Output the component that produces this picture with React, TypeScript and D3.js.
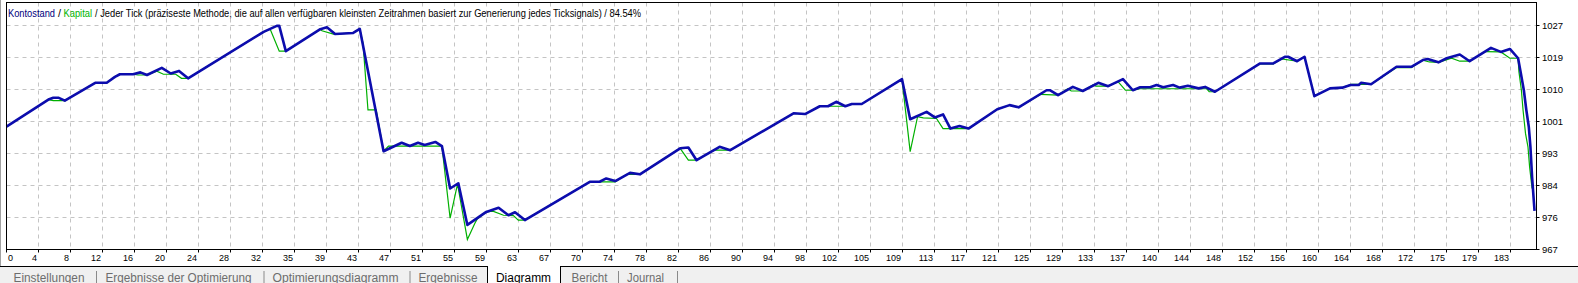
import React from "react";
import * as d3 from "d3";

const W = 1578;
const H = 283;

// X axis labels (trade numbers) shown under the evenly spaced vertical grid lines
const xTickLabels = ["0","4","8","12","16","20","24","28","32","35","39","43","47","51","55","59","63","67","70","74","78","82","86","90","94","98","102","105","109","113","117","121","125","129","133","137","140","144","148","152","156","160","164","168","172","175","179","183"];
// Y axis grid values (labels are these rounded)
const yTickValues = [967, 975.6, 984.2, 992.8, 1001.4, 1010, 1018.6, 1027.2];

// Kontostand (balance) – [trade index, value]
const balance: [number, number][] = [
  [0,1000.0],[5.1,1007.3],[5.7,1007.8],[6.3,1007.8],[7.1,1007.0],[10.8,1011.8],[12.2,1011.8],[13.2,1013.4],[13.8,1014.1],[15.4,1014.1],[16.3,1014.6],[17.1,1013.9],[18.9,1015.8],[20.0,1014.3],[21.0,1015.0],[22.1,1013.0],[31.3,1025.5],[32.9,1027.1],[33.2,1027.1],[34.0,1020.3],[38.2,1026.2],[39.0,1026.7],[40.0,1024.9],[42.2,1025.2],[43.0,1026.3],[45.9,993.4],[48.1,995.7],[49.1,994.8],[50.1,995.7],[50.9,995.1],[52.2,995.9],[53.0,994.8],[54.0,983.4],[55.0,984.8],[56.1,973.6],[58.4,977.1],[59.9,978.2],[61.1,976.2],[61.9,977.0],[63.1,974.9],[71.0,985.2],[72.2,985.2],[73.0,986.1],[74.1,985.4],[75.9,987.6],[77.1,987.2],[82.0,994.2],[83.0,994.4],[84.0,991.0],[86.8,994.6],[88.1,993.7],[95.8,1003.6],[97.2,1003.4],[99.0,1005.5],[100.0,1005.5],[101.0,1006.7],[102.1,1005.5],[102.9,1006.1],[104.1,1006.1],[109.0,1012.8],[110.0,1002.0],[112.0,1004.0],[113.0,1002.5],[114.0,1003.3],[114.9,999.5],[116.0,1000.2],[117.1,999.5],[120.6,1004.7],[122.1,1005.8],[123.2,1005.2],[126.6,1009.8],[127.0,1009.8],[128.0,1008.5],[129.8,1010.7],[131.0,1009.6],[132.9,1011.8],[134.1,1010.9],[135.9,1012.8],[137.1,1009.8],[138.0,1010.6],[139.2,1010.6],[140.0,1011.2],[140.8,1010.6],[142.0,1011.2],[142.8,1010.5],[143.8,1011.0],[145.1,1010.3],[145.9,1010.7],[147.1,1009.4],[152.6,1017.0],[154.2,1017.0],[155.6,1018.8],[156.0,1018.8],[157.1,1017.6],[158.0,1018.8],[159.2,1008.2],[161.1,1010.3],[162.6,1010.5],[163.6,1011.2],[164.6,1011.2],[164.9,1011.8],[166.1,1011.4],[169.2,1016.1],[171.0,1016.1],[172.4,1017.9],[173.0,1018.2],[174.3,1017.3],[175.3,1018.4],[176.9,1019.4],[178.1,1017.6],[180.7,1021.2],[181.9,1020.1],[183.0,1020.9],[184.0,1018.4],[184.3,1014.8],[184.7,1009.8],[185.0,1004.5],[185.3,1000.0],[185.5,994.6],[185.7,986.5],[186.0,977.4]
];

// Kapital (equity) – [trade index, value]
const equity: [number, number][] = [
  [0,1000.0],[5.1,1007.3],[5.7,1007.0],[7.1,1007.0],[10.8,1011.8],[12.2,1011.8],[13.2,1013.4],[13.8,1014.1],[15.4,1014.1],[16.0,1013.9],[17.1,1013.9],[18.3,1014.9],[19.1,1014.1],[20.6,1014.1],[21.3,1013.0],[22.1,1013.0],[31.3,1025.5],[32.1,1026.2],[33.2,1020.3],[34.0,1020.3],[38.2,1026.2],[38.4,1025.8],[39.8,1024.9],[40.0,1024.9],[42.2,1025.2],[43.0,1026.3],[43.4,1022.4],[44.0,1004.5],[45.0,1004.5],[45.9,993.4],[46.5,994.8],[53.0,994.8],[54.0,975.4],[54.9,984.6],[56.1,969.7],[57.0,974.0],[57.3,975.2],[58.4,977.1],[59.2,977.3],[60.5,976.2],[61.7,976.1],[62.3,974.9],[63.1,974.9],[71.0,985.2],[72.2,985.2],[74.1,985.2],[75.5,987.2],[77.1,987.2],[82.0,994.2],[83.0,991.0],[84.0,991.0],[86.1,993.7],[88.1,993.7],[95.8,1003.6],[97.2,1003.4],[99.0,1005.5],[102.1,1005.5],[102.9,1006.1],[104.1,1006.1],[109.0,1012.8],[110.0,993.3],[110.9,1002.7],[111.6,1002.4],[113.2,1002.2],[114.0,999.5],[117.1,999.5],[120.6,1004.7],[122.1,1005.8],[123.2,1005.2],[125.9,1008.7],[128.0,1008.5],[129.2,1010.2],[129.6,1009.6],[131.0,1009.6],[132.3,1011.3],[132.6,1010.9],[134.1,1010.9],[135.3,1012.1],[136.2,1009.8],[137.1,1009.8],[138.0,1010.2],[146.1,1010.2],[146.4,1009.4],[147.1,1009.4],[152.5,1016.9],[154.2,1016.9],[155.2,1018.2],[157.1,1017.6],[158.0,1018.8],[159.2,1008.2],[161.1,1010.3],[162.6,1010.5],[163.7,1011.4],[166.1,1011.4],[169.2,1015.9],[171.0,1015.9],[172.4,1017.9],[173.2,1017.4],[174.3,1017.3],[175.9,1018.4],[176.9,1017.6],[178.1,1017.6],[180.0,1020.2],[181.9,1020.1],[183.0,1018.4],[184.0,1018.4],[184.1,1014.8],[184.4,1009.8],[184.6,1004.5],[184.9,998.2],[185.2,994.6],[185.4,989.2],[185.7,983.4]
];

// Title pieces
const titleParts = [
  { text: "Kontostand", x: 8, w: 47, color: "#00007c" },
  { text: "/", x: 58, w: 3, color: "#000" },
  { text: "Kapital", x: 63.5, w: 28.5, color: "#00b400" },
  { text: "/ Jeder Tick (präziseste Methode, die auf allen verfügbaren kleinsten Zeitrahmen basiert zur Generierung jedes Ticksignals) / 84.54%", x: 95, w: 546, color: "#000" },
];

const tabs = [
  { label: "Einstellungen", x: 13.5, w: 71, sep: 96 },
  { label: "Ergebnisse der Optimierung", x: 105.5, w: 146, sep: 263.5 },
  { label: "Optimierungsdiagramm", x: 272.5, w: 126, sep: 409.5 },
  { label: "Ergebnisse", x: 418.5, w: 59, sep: -1 },
  { label: "Diagramm", x: 496, w: 55, sep: -1, active: true },
  { label: "Bericht", x: 571.5, w: 36, sep: 618 },
  { label: "Journal", x: 627, w: 37, sep: 677 },
];

const FONT = "'Liberation Sans', Arial, sans-serif";

export default function App() {
  const left = 6.5, right = 1536.5, top = 2.5, bottom = 249.5;
  const gridStep = 32;
  const x = d3.scaleLinear().domain([0, 186.3]).range([left, right + 0.5]);
  const y = d3.scaleLinear().domain([967, 1027.2]).range([bottom, 25.5]);
  const line = d3.line<[number, number]>().x(d => x(d[0])).y(d => y(d[1]));
  const fmt = d3.format(".0f");
  const gridX = xTickLabels.map((_, k) => left + k * gridStep);

  return (
    <svg width={W} height={H} style={{ position: "fixed", left: 0, top: 0, background: "#fff" }}
      fontFamily={FONT}>
      <rect x={0} y={0} width={W} height={H} fill="#fff" />
      <line x1={0.5} x2={0.5} y1={0} y2={266} stroke="#a0a0a0" />
      {/* horizontal grid */}
      {yTickValues.slice(1).map((v, i) => (
        <line key={"hy" + i} x1={left} x2={right} y1={y(v)} y2={y(v)}
          stroke="#c4c4c4" strokeDasharray="4,4" />
      ))}
      {/* vertical grid */}
      {gridX.slice(1).map((gx, i) => (
        <line key={"vx" + i} x1={gx} x2={gx} y1={top} y2={bottom} stroke="#c4c4c4" strokeDasharray="4,4" />
      ))}
      {/* title */}
      {titleParts.map((p, i) => (
        <text key={"tt" + i} x={p.x} y={17} fontSize={11} textLength={p.w} lengthAdjust="spacingAndGlyphs"
          fill={p.color}>{p.text}</text>
      ))}
      {/* lines */}
      <path d={line(equity) || ""} fill="none" stroke="#00b000" strokeWidth={1.2} />
      <path d={line(balance) || ""} fill="none" stroke="#0c0cad" strokeWidth={2.6} strokeLinejoin="round" />
      {/* frame */}
      <rect x={left} y={top} width={right - left} height={bottom - top} fill="none" stroke="#000" strokeWidth={1} />
      {/* y axis ticks and labels */}
      {yTickValues.map((v, i) => {
        const yy = y(v);
        return (
          <g key={"yt" + i}>
            <line x1={right} x2={right + 3} y1={yy} y2={yy} stroke="#000" />
            <text x={right + 5.5} y={yy + 3.5} fontSize={9.5} fill="#000">{fmt(v)}</text>
          </g>
        );
      })}
      {/* x axis ticks and labels */}
      {gridX.map((gx, k) => (
        <g key={"xt" + k}>
          <line x1={gx} x2={gx} y1={bottom} y2={bottom + 3} stroke="#000" />
          {k === 0 ? (
            <text x={8} y={261} fontSize={9} fill="#000">{xTickLabels[k]}</text>
          ) : (
            <text x={gx - 1.5} y={261} fontSize={9} textAnchor="end" fill="#000">{xTickLabels[k]}</text>
          )}
        </g>
      ))}
      {/* tab bar */}
      <rect x={0} y={266.5} width={W} height={H - 266.5} fill="#f0f0f0" />
      <line x1={0} x2={487} y1={266.5} y2={266.5} stroke="#000" />
      <line x1={561} x2={W} y1={266.5} y2={266.5} stroke="#000" />
      <rect x={487.5} y={266} width={73} height={H - 266} fill="#fff" />
      <line x1={487.5} x2={487.5} y1={266} y2={H} stroke="#000" />
      <line x1={560.5} x2={560.5} y1={266} y2={H} stroke="#000" />
      {tabs.map((t, i) => (
        <g key={"tab" + i}>
          <text x={t.x} y={281.5} fontSize={12} textLength={t.w} lengthAdjust="spacingAndGlyphs"
            fill={t.active ? "#000" : "#6d6d6d"}>{t.label}</text>
          {t.sep > 0 && <line x1={t.sep + 0.5} x2={t.sep + 0.5} y1={271} y2={283} stroke="#8a8a8a" />}
        </g>
      ))}
    </svg>
  );
}
